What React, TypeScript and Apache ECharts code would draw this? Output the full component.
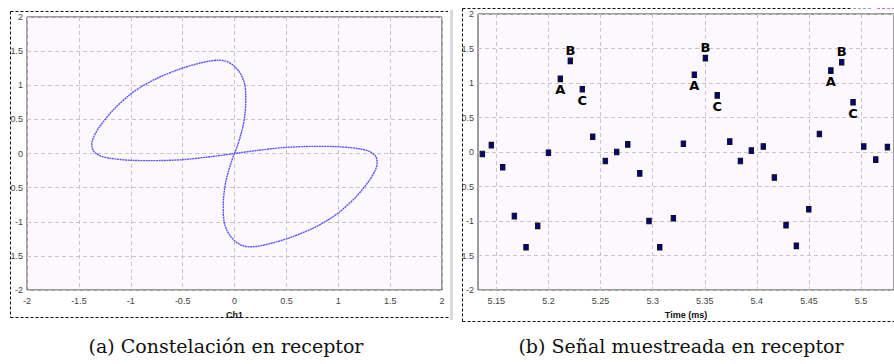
import React, { useEffect, useRef } from "react";
import * as echarts from "echarts";

// (a) Constellation at receiver: Ch1 (I) vs Q
const ch1I = [0, 0.03, 0.06, 0.085, 0.1, 0.108, 0.108, 0.1, 0.08, 0.045, -0.01, -0.07, -0.15, -0.25, -0.37, -0.53, -0.75, -0.9, -1.01, -1.17, -1.3, -1.355, -1.375, -1.36, -1.3, -1.2, -1.0, -0.8, -0.5, -0.22, 0,
  0.22, 0.5, 0.8, 1.0, 1.2, 1.3, 1.36, 1.375, 1.355, 1.3, 1.17, 1.01, 0.9, 0.75, 0.53, 0.37, 0.25, 0.15, 0.07, 0.01, -0.045, -0.08, -0.1, -0.108, -0.108, -0.1, -0.085, -0.06, -0.03, 0];
const ch1Q = [0, 0.12, 0.27, 0.42, 0.57, 0.72, 0.87, 1.0, 1.1, 1.2, 1.29, 1.345, 1.368, 1.352, 1.31, 1.236, 1.1, 0.975, 0.86, 0.637, 0.393, 0.25, 0.14, 0.04, -0.03, -0.07, -0.1, -0.105, -0.09, -0.045, 0,
  0.045, 0.09, 0.105, 0.1, 0.07, 0.03, -0.04, -0.14, -0.25, -0.393, -0.637, -0.86, -0.975, -1.1, -1.236, -1.31, -1.352, -1.368, -1.345, -1.29, -1.2, -1.1, -1.0, -0.87, -0.72, -0.57, -0.42, -0.27, -0.12, 0];

// (b) Sampled signal at receiver
const sampleTimes = [5.1366, 5.1452, 5.1561, 5.1673, 5.1785, 5.1897, 5.2, 5.2114, 5.221, 5.2325, 5.2425, 5.2546, 5.2655, 5.2761, 5.2876, 5.2965, 5.3068, 5.3199, 5.3295,
  5.34, 5.3506, 5.362, 5.374, 5.3842, 5.3947, 5.4062, 5.4168, 5.428, 5.4379, 5.4498, 5.46, 5.471, 5.4814, 5.4923, 5.5026, 5.5141, 5.5253];
const sampleValues = [-0.03, 0.1, -0.22, -0.93, -1.38, -1.07, -0.01, 1.06, 1.32, 0.91, 0.22, -0.13, 0.0, 0.11, -0.31, -1.0, -1.38, -0.96, 0.12,
  1.12, 1.36, 0.82, 0.15, -0.13, 0.02, 0.08, -0.37, -1.06, -1.36, -0.83, 0.26, 1.18, 1.3, 0.72, 0.08, -0.11, 0.07];
const sampleMarks = ["", "", "", "", "", "", "", "A", "B", "C", "", "", "", "", "", "", "", "", "",
  "A", "B", "C", "", "", "", "", "", "", "", "", "", "A", "B", "C", "", "", ""];
const timeTicks = [5.15, 5.2, 5.25, 5.3, 5.35, 5.4, 5.45, 5.5];

const captionA = "(a) Constelación en receptor";
const captionB = "(b) Señal muestreada en receptor";
const xNameA = "Ch1";
const xNameB = "Time (ms)";

export default function App() {
  const ref = useRef<HTMLDivElement>(null);
  useEffect(() => {
    if (!ref.current) return;
    const chart = echarts.init(ref.current, undefined, { renderer: "svg" });
    const labelFont = { color: "#444", fontSize: 9, fontFamily: "Liberation Sans" };
    const gridLine = { show: true, lineStyle: { color: "#c6c6c6", type: [4, 3] as any, width: 1 } };
    const plotBg = "#fdf8fd";
    const curve = ch1I.map((x, i) => [x, ch1Q[i]]);
    const pos: Record<string, string> = { A: "bottom", B: "top", C: "bottom" };
    const samples = sampleTimes.map((t, i) => {
      const m = sampleMarks[i];
      return m
        ? {
            value: [t, sampleValues[i]],
            label: {
              show: true,
              formatter: m,
              position: pos[m],
              distance: 1,
              color: "#000",
              fontSize: 13,
              fontWeight: "bold",
              fontFamily: "DejaVu Sans",
            },
          }
        : { value: [t, sampleValues[i]] };
    });
    chart.setOption({
      animation: false,
      backgroundColor: "#ffffff",
      grid: [
        { left: 27, top: 17, width: 415, height: 273, show: true, backgroundColor: plotBg, borderColor: "#3c3c3c", borderWidth: 1, containLabel: false, outerBoundsMode: "none" },
        { left: 478, top: 14, right: 0, height: 276, show: true, backgroundColor: plotBg, borderColor: "#3c3c3c", borderWidth: 1, containLabel: false, outerBoundsMode: "none" },
      ],
      xAxis: [
        {
          gridIndex: 0, type: "value", min: -2, max: 2, interval: 0.5,
          axisLine: { show: false }, axisTick: { show: false },
          axisLabel: { ...labelFont, margin: 6 },
          splitLine: gridLine,
          name: xNameA, nameLocation: "middle", nameGap: 20,
          nameTextStyle: { fontSize: 9, fontWeight: "bold", color: "#111", fontFamily: "Liberation Sans" },
        },
        {
          gridIndex: 1, type: "value", min: 5.1324, max: 5.5316,
          axisLine: { show: false },
          axisTick: { show: false, customValues: timeTicks },
          axisLabel: { ...labelFont, margin: 6, customValues: timeTicks },
          splitLine: gridLine,
          name: xNameB, nameLocation: "middle", nameGap: 20,
          nameTextStyle: { fontSize: 9, fontWeight: "bold", color: "#111", fontFamily: "Liberation Sans" },
        },
      ],
      yAxis: [
        {
          gridIndex: 0, type: "value", min: -2, max: 2, interval: 0.5,
          axisLine: { show: false }, axisTick: { show: false },
          axisLabel: { ...labelFont, margin: 4 },
          splitLine: gridLine,
        },
        {
          gridIndex: 1, type: "value", min: -2, max: 2, interval: 0.5,
          axisLine: { show: false }, axisTick: { show: false },
          axisLabel: { ...labelFont, margin: 4 },
          splitLine: gridLine,
        },
      ],
      series: [
        {
          type: "line", xAxisIndex: 0, yAxisIndex: 0, data: curve,
          showSymbol: false, smooth: 0.3,
          lineStyle: { color: "#5555ff", width: 1.4, type: [2, 0.6] as any },
        },
        {
          type: "scatter", xAxisIndex: 1, yAxisIndex: 1, data: samples,
          symbol: "rect", symbolSize: [4.5, 5.5],
          itemStyle: { color: "#00008b", borderColor: "#111", borderWidth: 1, opacity: 1 },
        },
      ],
      graphic: [
        // masks that clip the axis labels at the panel borders
        { type: "rect", z: 100, shape: { x: 0, y: 0, width: 10.5, height: 330 }, style: { fill: "#fff" } },
        { type: "rect", z: 100, shape: { x: 451, y: 0, width: 11, height: 330 }, style: { fill: "#fff" } },
        { type: "rect", z: 101, shape: { x: 450, y: 10, width: 3, height: 310 }, style: { fill: "#d9d9d9" } },
        // panel (a) dashed frame
        { type: "line", z: 102, shape: { x1: 10.5, y1: 11.5, x2: 448, y2: 11.5 }, style: { stroke: "#111", lineWidth: 1, lineDash: [3, 2] } },
        { type: "line", z: 102, shape: { x1: 10.5, y1: 11.5, x2: 10.5, y2: 317.5 }, style: { stroke: "#111", lineWidth: 1, lineDash: [3, 2] } },
        { type: "line", z: 102, shape: { x1: 10.5, y1: 317.5, x2: 450, y2: 317.5 }, style: { stroke: "#111", lineWidth: 1, lineDash: [3, 2] } },
        // panel (b) dashed frame
        { type: "line", z: 102, shape: { x1: 462.5, y1: 8.5, x2: 852, y2: 8.5 }, style: { stroke: "#111", lineWidth: 1, lineDash: [3, 2] } },
        { type: "line", z: 102, shape: { x1: 853, y1: 8.5, x2: 873, y2: 8.5 }, style: { stroke: "#9a9ad8", lineWidth: 1, lineDash: [3, 2] } },
        { type: "line", z: 102, shape: { x1: 877, y1: 8.5, x2: 894, y2: 8.5 }, style: { stroke: "#e070e0", lineWidth: 1, lineDash: [3, 2] } },
        { type: "line", z: 102, shape: { x1: 462.5, y1: 8.5, x2: 462.5, y2: 321.5 }, style: { stroke: "#111", lineWidth: 1, lineDash: [3, 2] } },
        { type: "line", z: 102, shape: { x1: 462.5, y1: 321.5, x2: 894, y2: 321.5 }, style: { stroke: "#111", lineWidth: 1, lineDash: [3, 2] } },
        // captions
        {
          type: "text", z: 102, x: 226, y: 346,
          style: { text: captionA, fill: "#111", font: "19px 'DejaVu Serif'", textAlign: "center", textVerticalAlign: "middle" },
        },
        {
          type: "text", z: 102, x: 681, y: 346,
          style: { text: captionB, fill: "#111", font: "19px 'DejaVu Serif'", textAlign: "center", textVerticalAlign: "middle" },
        },
      ],
    });
    return () => chart.dispose();
  }, []);
  return <div ref={ref} style={{ position: "absolute", left: 0, top: 0, width: 894, height: 364 }} />;
}
